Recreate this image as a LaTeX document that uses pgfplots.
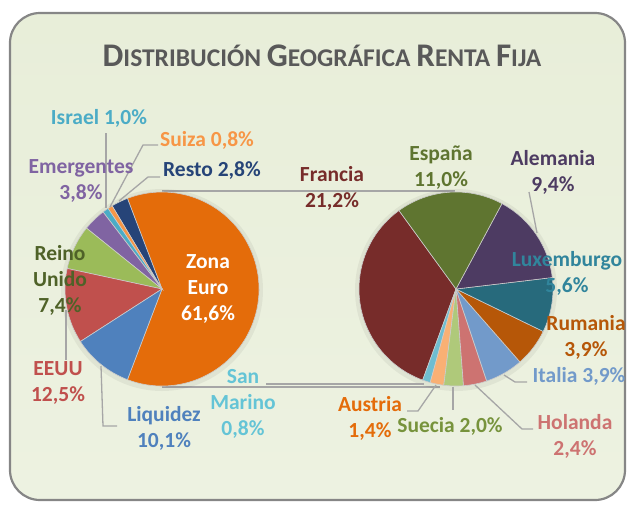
\documentclass[border=0pt]{standalone}
\usepackage{pgfplots}
\usepackage{pgfplotstable}
\pgfplotsset{compat=1.18}
\usepackage{fontspec}
\setmainfont{Carlito}

\definecolor{cEuro}{HTML}{E46C0A}
\definecolor{cResto}{HTML}{264478}
\definecolor{cSuiza}{HTML}{F79646}
\definecolor{cIsrael}{HTML}{4BACC6}
\definecolor{cEmerg}{HTML}{8064A2}
\definecolor{cRU}{HTML}{9BBB59}
\definecolor{cEEUU}{HTML}{C0504D}
\definecolor{cLiq}{HTML}{4F81BD}
\definecolor{cFra}{HTML}{772C2A}
\definecolor{cSM}{HTML}{6FBDD1}
\definecolor{cAus}{HTML}{F9B074}
\definecolor{cSue}{HTML}{AFC97A}
\definecolor{cHol}{HTML}{CD7371}
\definecolor{cIta}{HTML}{729ACA}
\definecolor{cRum}{HTML}{B65708}
\definecolor{cLux}{HTML}{276A7C}
\definecolor{cAle}{HTML}{4D3B62}
\definecolor{cEsp}{HTML}{5F7530}
\definecolor{tRU}{HTML}{4F6228}
\definecolor{tSue}{HTML}{77933C}
\definecolor{tLux}{HTML}{31859C}
\definecolor{leader}{HTML}{A6A6A6}
\definecolor{bgtop}{HTML}{E8EED9}
\definecolor{bgmid}{HTML}{C7DAA6}
\definecolor{bgbot}{HTML}{EDF2E1}

% primary pie, counter-clockwise from the lower edge of "Zona Euro"
\pgfplotstableread{
name pct col
ZonaEuro 61.6 cEuro
Resto 2.8 cResto
Suiza 0.8 cSuiza
Israel 1.0 cIsrael
Emergentes 3.8 cEmerg
ReinoUnido 7.4 cRU
EEUU 12.5 cEEUU
Liquidez 10.1 cLiq
}\leftpie

% secondary pie (breakdown of Zona Euro), counter-clockwise
\pgfplotstableread{
name pct col
Francia 21.2 cFra
SanMarino 0.8 cSM
Austria 1.4 cAus
Suecia 2.0 cSue
Holanda 2.4 cHol
Italia 3.9 cIta
Rumania 3.9 cRum
Luxemburgo 5.6 cLux
Alemania 9.4 cAle
Espana 11.0 cEsp
}\rightpie

\newcommand\lbl{\fontsize{21.5}{26}\selectfont\bfseries}
\newcommand\tbig{\fontsize{33}{36}\selectfont}
\newcommand\tsml{\fontsize{25.5}{30}\selectfont}

\begin{document}
\begin{tikzpicture}
\begin{axis}[
  scale only axis,
  width=627pt, height=504pt,
  xmin=0, xmax=627, ymin=0, ymax=504,
  y dir=reverse,
  hide axis,
  clip=false,
]
% background panel
\shade[rounded corners=30pt, top color=bgtop, middle color=bgmid, bottom color=bgbot]
  (axis cs:10,13) rectangle (axis cs:625,500);
\draw[rounded corners=30pt, line width=2.2pt, draw=gray!95]
  (axis cs:10,13) rectangle (axis cs:625,500);

% title
\node[anchor=base, text=black!65] at (axis cs:322,66)
  {\bfseries\tbig D\tsml ISTRIBUCIÓN \tbig G\tsml EOGRÁFICA \tbig R\tsml ENTA \tbig F\tsml IJA};

% connector lines between the pies
\draw[leader, line width=1.3pt] (axis cs:162,191) -- (axis cs:455,191);
\draw[leader, line width=1.3pt] (axis cs:162,387) -- (axis cs:440,387);

% soft shadows
\fill[black, opacity=0.05] (axis cs:162,290) circle[radius=101pt];
\fill[black, opacity=0.05] (axis cs:456,290) circle[radius=101pt];

% primary pie
\pgfmathsetmacro\acc{-1.8*61.6}
\pgfplotsforeachungrouped \i in {0,...,7}{
  \pgfplotstablegetelem{\i}{pct}\of\leftpie \let\p\pgfplotsretval
  \pgfplotstablegetelem{\i}{col}\of\leftpie \let\c\pgfplotsretval
  \pgfmathsetmacro\enda{\acc+3.6*\p}
  \edef\temp{\noexpand\filldraw[fill=\c, draw=white!60!gray, line width=0.6pt]
    (axis cs:162,289) -- ++(\acc:97pt) arc[start angle=\acc, end angle=\enda, radius=97pt] -- cycle;}
  \temp
  \let\acc\enda
}

% secondary pie
\pgfmathsetmacro\acc{126}
\pgfplotsforeachungrouped \i in {0,...,9}{
  \pgfplotstablegetelem{\i}{pct}\of\rightpie \let\p\pgfplotsretval
  \pgfplotstablegetelem{\i}{col}\of\rightpie \let\c\pgfplotsretval
  \pgfmathsetmacro\enda{\acc+360*\p/61.6}
  \edef\temp{\noexpand\filldraw[fill=\c, draw=white!60!gray, line width=0.6pt]
    (axis cs:456,289) -- ++(\acc:97pt) arc[start angle=\acc, end angle=\enda, radius=97pt] -- cycle;}
  \temp
  \let\acc\enda
}

% leader lines
\begin{scope}[leader, line width=1.3pt]
\draw (axis cs:106,133) -- (axis cs:106,208);
\draw (axis cs:158,145) -- (axis cs:143,145) -- (axis cs:110,207);
\draw (axis cs:160,177) -- (axis cs:148,177) -- (axis cs:119,201);
\draw (axis cs:66,310) -- (axis cs:66,360);
\draw (axis cs:117,426) -- (axis cs:103,426) -- (axis cs:101,366);
\draw (axis cs:266,384) -- (axis cs:424,384);
\draw (axis cs:529,192) -- (axis cs:537,233);
\draw (axis cs:527,382) -- (axis cs:515,382) -- (axis cs:504,375);
\draw (axis cs:533,429) -- (axis cs:522,429) -- (axis cs:475,385);
\draw (axis cs:453,387) -- (axis cs:453,410);
\draw (axis cs:407,411) -- (axis cs:418,411) -- (axis cs:436,385);
\end{scope}

% data labels
\begin{scope}[every node/.style={align=center, font=\lbl}]
\node[text=white] at (axis cs:208,289) {Zona\\Euro\\61,6\%};
\node[text=cIsrael] at (axis cs:99,118) {Israel 1,0\%};
\node[text=cSuiza] at (axis cs:207,140) {Suiza 0,8\%};
\node[text=cResto] at (axis cs:212,171) {Resto 2,8\%};
\node[text=cEmerg] at (axis cs:81,181) {Emergentes\\3,8\%};
\node[text=tRU] at (axis cs:60,280) {Reino\\Unido\\7,4\%};
\node[text=cEEUU] at (axis cs:58,383) {EEUU\\12,5\%};
\node[text=cLiq] at (axis cs:164,428) {Liquidez\\10,1\%};
\node[text=cSM!90!cyan] at (axis cs:243,404) {San\\Marino\\0,8\%};
\node[text=cFra] at (axis cs:332,188) {Francia\\21,2\%};
\node[text=cEsp] at (axis cs:441,168) {España\\11,0\%};
\node[text=cAle] at (axis cs:553,172) {Alemania\\9,4\%};
\node[text=tLux] at (axis cs:567,273) {Luxemburgo\\5,6\%};
\node[text=cRum] at (axis cs:586,337) {Rumania\\3,9\%};
\node[text=cIta] at (axis cs:579,376) {Italia 3,9\%};
\node[text=cHol] at (axis cs:575,436) {Holanda\\2,4\%};
\node[text=tSue] at (axis cs:450,426) {Suecia 2,0\%};
\node[text=cEuro] at (axis cs:370,418) {Austria\\1,4\%};
\end{scope}
\end{axis}
\pgfresetboundingbox
\useasboundingbox (0,0) rectangle (627pt,504pt);
\end{tikzpicture}
\end{document}
